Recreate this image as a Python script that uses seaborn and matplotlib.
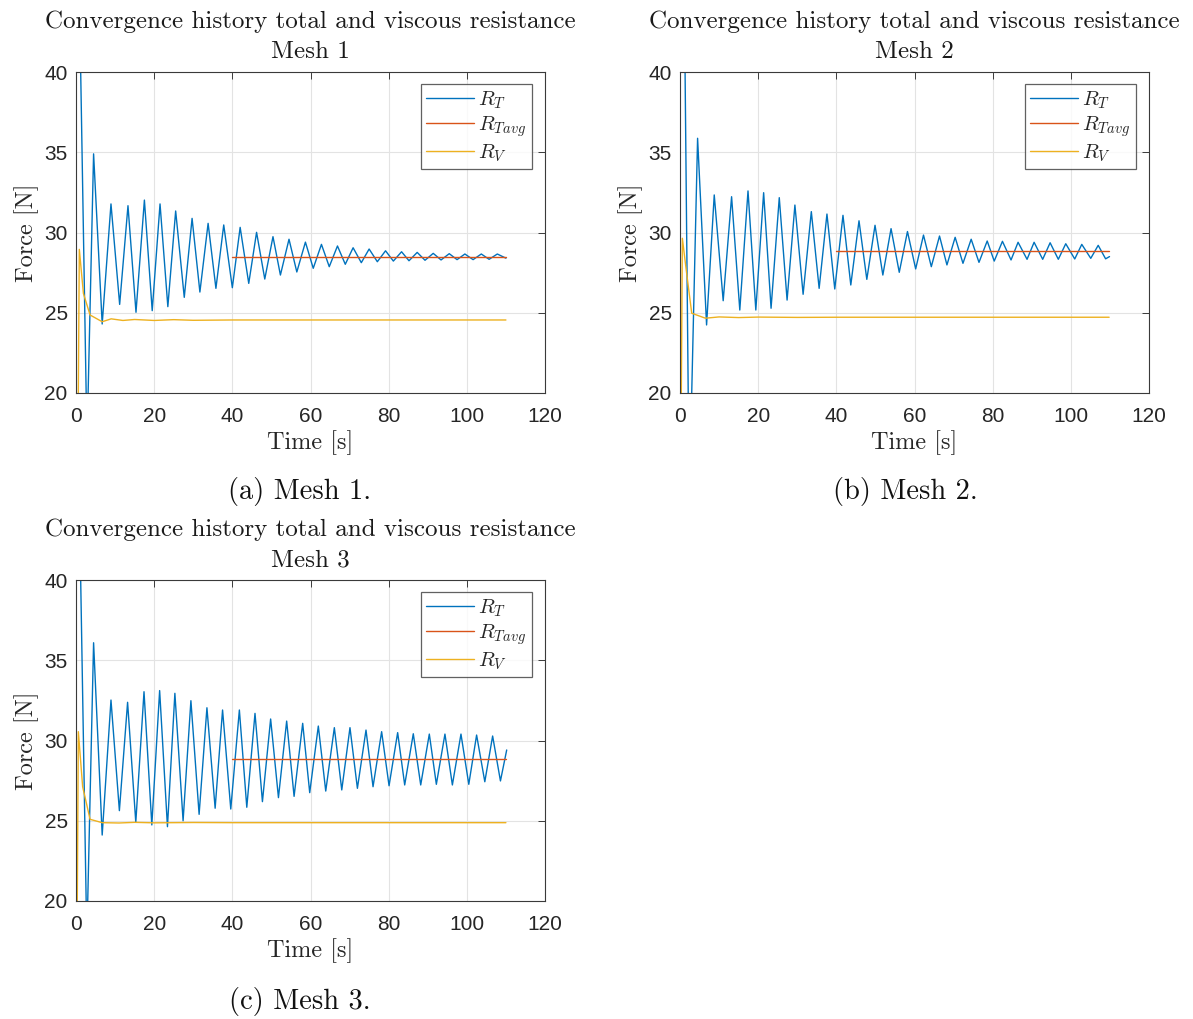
import numpy as np
import pandas as pd
import matplotlib
matplotlib.use("Agg")
import matplotlib.pyplot as plt
import seaborn as sns

# ---------------- data ----------------
# Mesh 1 total resistance R_T: start transient, then alternating peaks / troughs
m1_t = [0.2, 1.2, 2.6, 2.85, 3.1, 4.5, 6.7,
        8.95, 11.17, 13.3, 15.35, 17.5, 19.5, 21.5, 23.5, 25.5, 27.7, 29.7, 31.7,
        33.8, 35.8, 37.8, 40.0, 42.0, 44.2, 46.2, 48.3, 50.4, 52.3, 54.5, 56.5,
        58.7, 60.7, 62.8, 64.8, 66.9, 68.9, 70.9, 73.0, 75.0, 77.1, 79.2, 81.2,
        83.3, 85.2, 87.3, 89.3, 91.4, 93.4, 95.5, 97.5, 99.5, 101.6, 103.7, 105.7,
        107.8, 110.0]
m1_rt = [52.0, 40.0, 20.0, 16.5, 20.0, 34.9, 24.3,
         31.78, 25.52, 31.67, 25.03, 32.02, 25.13, 31.78, 25.38, 31.34, 25.96, 30.88, 26.29,
         30.57, 26.52, 30.47, 26.56, 30.32, 26.83, 30.01, 27.10, 29.74, 27.35, 29.58, 27.54,
         29.40, 27.77, 29.26, 27.87, 29.16, 28.02, 29.05, 28.12, 28.97, 28.18, 28.86, 28.22,
         28.80, 28.24, 28.76, 28.27, 28.70, 28.29, 28.68, 28.31, 28.66, 28.31, 28.66, 28.33,
         28.66, 28.40]
m1_rv_t = [0.45, 0.85, 1.9, 3.6, 6.7, 9.0, 12.0, 15.0, 20.0, 25.0, 30.0, 40.0, 110.0]
m1_rv = [15.0, 28.95, 26.2, 24.86, 24.44, 24.62, 24.52, 24.58, 24.52, 24.57, 24.53, 24.55, 24.55]
m1_avg_t = [40.0, 110.0]
m1_avg = [28.47, 28.47]

# Mesh 2
m2_t = [0.2, 1.3, 2.1, 2.5, 3.0, 4.5, 6.8,
        8.76, 11.05, 13.2, 15.3, 17.4, 19.4, 21.4, 23.3, 25.4, 27.4, 29.4, 31.5,
        33.6, 35.6, 37.6, 39.6, 41.7, 43.7, 45.8, 47.8, 49.9, 51.9, 54.0, 56.1,
        58.2, 60.3, 62.3, 64.3, 66.4, 68.3, 70.4, 72.4, 74.5, 76.5, 78.6, 80.4,
        82.5, 84.7, 86.5, 88.8, 90.6, 92.8, 94.7, 96.8, 98.7, 101.0, 102.8, 105.1,
        107.0, 108.9, 109.9]
m2_rt = [52.0, 40.0, 20.0, 16.5, 20.0, 35.87, 24.24,
         32.34, 25.75, 32.23, 25.17, 32.59, 25.17, 32.48, 25.28, 32.17, 25.79, 31.71, 26.15,
         31.30, 26.52, 31.15, 26.48, 31.07, 26.73, 30.73, 27.08, 30.45, 27.35, 30.24, 27.52,
         30.06, 27.73, 29.84, 27.87, 29.78, 27.98, 29.70, 28.08, 29.58, 28.14, 29.47, 28.22,
         29.45, 28.29, 29.39, 28.33, 29.39, 28.33, 29.36, 28.33, 29.30, 28.35, 29.26, 28.39,
         29.20, 28.36, 28.50]
m2_rv_t = [0.2, 0.6, 1.7, 3.0, 6.5, 10.0, 15.0, 20.0, 30.0, 40.0, 109.8]
m2_rv = [15.0, 29.64, 27.46, 24.97, 24.66, 24.74, 24.70, 24.73, 24.71, 24.72, 24.72]
m2_avg_t = [40.0, 109.8]
m2_avg = [28.82, 28.82]

# Mesh 3
m3_t = [0.2, 1.2, 2.6, 2.85, 3.0, 4.5, 6.7,
        8.95, 11.1, 13.2, 15.3, 17.4, 19.4, 21.4, 23.4, 25.3, 27.4, 29.4, 31.5,
        33.5, 35.6, 37.5, 39.6, 41.8, 43.7, 45.8, 47.7, 49.8, 51.8, 53.9, 55.8,
        58.0, 59.8, 62.0, 63.9, 66.1, 68.0, 70.1, 72.0, 74.2, 76.0, 78.2, 80.1,
        82.3, 84.1, 86.3, 88.2, 90.4, 92.2, 94.4, 96.3, 98.5, 100.5, 102.5, 104.6,
        106.6, 108.6, 110.2]
m3_rt = [52.0, 40.0, 20.0, 16.5, 20.0, 36.09, 24.11,
         32.52, 25.63, 32.38, 24.90, 33.04, 24.74, 33.11, 24.63, 32.94, 25.00, 32.48, 25.40,
         32.04, 25.78, 31.90, 25.73, 31.90, 25.84, 31.69, 26.19, 31.34, 26.44, 31.21, 26.52,
         31.07, 26.75, 30.90, 26.85, 30.80, 26.92, 30.80, 27.02, 30.65, 27.12, 30.55, 27.18,
         30.49, 27.23, 30.42, 27.23, 30.40, 27.27, 30.40, 27.23, 30.40, 27.27, 30.34, 27.43,
         30.28, 27.48, 29.41]
m3_rv_t = [0.2, 0.6, 1.7, 3.6, 6.7, 11.0, 15.0, 20.0, 30.0, 40.0, 110.0]
m3_rv = [15.0, 30.55, 27.12, 25.09, 24.88, 24.86, 24.90, 24.87, 24.89, 24.88, 24.88]
m3_avg_t = [40.0, 110.0]
m3_avg = [28.85, 28.85]

titles = ["Convergence history total and viscous resistance\nMesh 1",
          "Convergence history total and viscous resistance\nMesh 2",
          "Convergence history total and viscous resistance\nMesh 3"]
captions = ["(a) Mesh 1.", "(b) Mesh 2.", "(c) Mesh 3."]
x_ticks = [0, 20, 40, 60, 80, 100, 120]
y_ticks = [20, 25, 30, 35, 40]
legend_labels = [r"$R_T$", r"$R_{Tavg}$", r"$R_V$"]

# ---------------- style ----------------
sns.set_style("white")
plt.rcParams["font.family"] = ["Liberation Sans", "DejaVu Sans"]
plt.rcParams["mathtext.fontset"] = "cm"
plt.rcParams["lines.solid_joinstyle"] = "round"

C_RT = "#0072BD"
C_AVG = "#D95319"
C_RV = "#EDB120"
SERIF = "cmr10"

W, H = 1193, 1019
fig = plt.figure(figsize=(W / 100, H / 100), dpi=100)
boxes = [(76, 72), (680, 72), (76, 580)]
AW, AH = 469, 321

datasets = [
    (m1_t, m1_rt, m1_avg_t, m1_avg, m1_rv_t, m1_rv),
    (m2_t, m2_rt, m2_avg_t, m2_avg, m2_rv_t, m2_rv),
    (m3_t, m3_rt, m3_avg_t, m3_avg, m3_rv_t, m3_rv),
]

for i, ((left, top), data) in enumerate(zip(boxes, datasets)):
    t, rt, at, av, vt, vv = data
    ax = fig.add_axes([left / W, 1 - (top + AH) / H, AW / W, AH / H])
    sns.lineplot(x=t, y=rt, ax=ax, color=C_RT, lw=1.0, sort=False,
                 estimator=None, label=legend_labels[0])
    sns.lineplot(x=at, y=av, ax=ax, color=C_AVG, lw=1.0, sort=False,
                 estimator=None, label=legend_labels[1])
    sns.lineplot(x=vt, y=vv, ax=ax, color=C_RV, lw=1.0, sort=False,
                 estimator=None, label=legend_labels[2])
    ax.set_xlim(0, 120)
    ax.set_ylim(20, 40)
    ax.set_xticks(x_ticks)
    ax.set_yticks(y_ticks)
    ax.grid(True, color="#e3e3e3", lw=0.8)
    ax.set_axisbelow(True)
    for s in ax.spines.values():
        s.set_color("#3a3a3a")
        s.set_linewidth(0.8)
    ax.tick_params(direction="in", top=True, right=True, length=5, width=0.7,
                   color="#3a3a3a", labelcolor="#262626", labelsize=15)
    ax.tick_params(axis="x", pad=10)
    ax.tick_params(axis="y", pad=6)
    ax.set_xlabel("Time [s]", family=SERIF, fontsize=17.5, color="#262626", labelpad=3)
    ax.set_ylabel("Force [N]", family=SERIF, fontsize=17.5, color="#262626", labelpad=4)
    ax.set_title(titles[i], family=SERIF, fontsize=18, color="#1a1a1a",
                 linespacing=1.45, pad=10)
    leg = ax.legend(loc="upper right", bbox_to_anchor=(1 - 13.3 / AW, 1 - 12.3 / AH),
                    borderaxespad=0, fontsize=15, handlelength=2.3, handletextpad=0.2,
                    labelspacing=0.15, borderpad=0.25, frameon=True, fancybox=False)
    leg.get_frame().set_edgecolor("#3a3a3a")
    leg.get_frame().set_linewidth(0.9)

fig.text(300 / W, 1 - 492 / H, captions[0], family=SERIF, fontsize=20.5,
         ha="center", va="center", color="#111111")
fig.text(905 / W, 1 - 492 / H, captions[1], family=SERIF, fontsize=20.5,
         ha="center", va="center", color="#111111")
fig.text(300 / W, 1 - 1001 / H, captions[2], family=SERIF, fontsize=20.5,
         ha="center", va="center", color="#111111")

fig.savefig("out.png", dpi=100, facecolor="white")
